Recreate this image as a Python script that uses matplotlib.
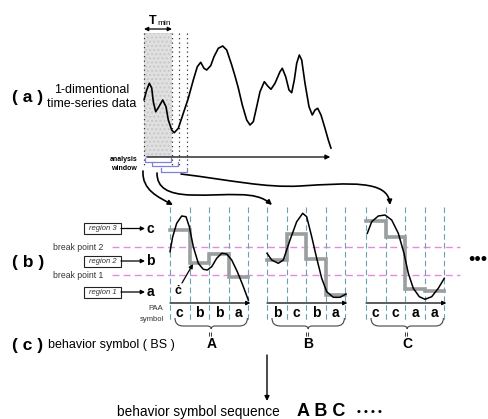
import numpy as np
import matplotlib
matplotlib.use('Agg')
from matplotlib import pyplot as plt
from matplotlib.patches import Rectangle, FancyArrowPatch, PathPatch
from matplotlib.path import Path

plt.rcParams['font.family'] = ['Liberation Sans', 'DejaVu Sans']

#%% Data (pixel coordinates, y down)
series_x = [144, 146.7, 149.3, 151.7, 153.3, 155.7, 158.3, 162.7, 166, 168.3, 171.7,
            174.3, 178.3, 183.3, 188.3, 193.3, 197.3, 200.7, 204, 206.7, 210.7, 214,
            218.3, 222.7, 226.7, 231.7, 235, 238.3, 242.3, 246.7, 250, 253.3, 256.7,
            260, 264.3, 267.7, 271, 275, 280, 282.3, 285.7, 289, 291.7, 294.3, 296.7,
            299.3, 301.7, 305, 309, 312.3, 315, 317.7, 321, 325, 328.3, 331]
series_y = [100, 90, 83.3, 88, 101.7, 111.7, 107.7, 100, 106.7, 120, 130,
            132.7, 128.3, 113.3, 98.3, 80, 66.7, 62.3, 68.3, 70, 65.7, 56.7,
            48.3, 46, 50, 65, 76, 88, 105, 120, 125, 121.7, 106.7,
            91.7, 81.7, 86, 89.3, 83.3, 71.7, 68.3, 76.7, 90, 92.7, 80, 63.3,
            55, 60, 83.3, 106.7, 115, 110, 108.3, 115, 128.3, 140, 148.3]

# window curves (b)
win_x = [[170, 172.7, 176.7, 181.7, 186, 189.3, 193.3, 198.3, 203.3, 207.3, 211.7,
          216.7, 221.7, 226.7, 231.7, 237.3, 242.7, 248.3],
         [267, 271.7, 278.3, 283.3, 290, 296.7, 302.7, 306.7, 311.7, 316.7, 321.7,
          326.7, 333.3, 340, 346],
         [367.3, 371.7, 378.3, 385, 391.7, 398.3, 404, 408.3, 413.3, 419.3, 425,
          431.7, 438.3, 444.3]]
win_y = [[251.7, 236.7, 223.3, 216, 216.7, 226.7, 246.7, 263.3, 269.3, 270, 266.7,
          258.3, 253.3, 254, 260, 271.7, 285, 300],
         [253.3, 260, 263.3, 260, 240, 221.7, 213.3, 216.7, 236.7, 258.3, 278.3,
          291.7, 297.3, 297.3, 294],
         [233.3, 221.7, 216, 215, 220, 233.3, 253.3, 273.3, 288.3, 296.7, 299.3,
          296.7, 288.3, 278.3]]

paa_levels = [[230, 262.7, 254, 277.3],
              [260, 234.3, 259, 295],
              [221, 237.3, 289.3, 290.7]]
paa_symbols = [['c', 'b', 'b', 'a'],
               ['b', 'c', 'b', 'a'],
               ['c', 'c', 'a', 'a']]
behavior_symbols = ['A', 'B', 'C']
region_labels = ['region 3', 'region 2', 'region 1']
region_symbols = ['c', 'b', 'a']
break_labels = ['break point 2', 'break point 1']

#%% Layout
panel_x0 = [170, 267, 366]
seg_w = 19.6
region_y = [228.5, 261, 292]
break_y = [247, 275]

fig = plt.figure(figsize=(4.89, 4.19), dpi=100)
ax = fig.add_axes([0, 0, 1, 1])
ax.set_xlim(0, 489)
ax.set_ylim(419, 0)
ax.axis('off')

#%% (a) time series
ax.add_patch(Rectangle((144, 33), 28, 124, facecolor='#e0e0e0', edgecolor='#c8c8c8',
                       hatch='....', lw=0))
for xd in [144, 172, 179, 187]:
    ax.plot([xd, xd], [33, 168], color='#333333', lw=0.9, ls=(0, (1, 2.6)))
ax.plot(series_x, series_y, color='black', lw=1.2, solid_capstyle='round',
        solid_joinstyle='round')
ax.annotate('', xy=(333, 157), xytext=(144, 157),
            arrowprops=dict(arrowstyle='-|>', color='black', lw=0.9, mutation_scale=7))
ax.annotate('', xy=(144, 29), xytext=(172, 29),
            arrowprops=dict(arrowstyle='<|-|>', color='black', lw=0.9, mutation_scale=6,
                            shrinkA=0, shrinkB=0))
ax.text(153, 21, 'T', fontsize=9, fontweight='bold', ha='center', va='center')
ax.text(157, 23.5, 'min', fontsize=6, ha='left', va='center')

ax.text(28, 97, '( a )', fontsize=12.5, fontweight='bold', ha='center', va='center')
ax.text(92, 90, '1-dimentional', fontsize=9, ha='center', va='center')
ax.text(92, 104, 'time-series data', fontsize=9, ha='center', va='center')
ax.text(137, 159, 'analysis', fontsize=5, fontweight='bold', ha='right', va='center')
ax.text(137, 168, 'window', fontsize=5, fontweight='bold', ha='right', va='center')

# analysis window brackets
for x0, x1, yb in [(145, 171, 162), (152, 178, 166), (161, 187, 172)]:
    ax.plot([x0, x0, x1, x1], [yb - 3.5, yb, yb, yb - 3.5], color='#8080d8', lw=0.9)

# curved arrows towards windows
curves = [
    [(143, 171), (142, 190), (158, 197), (173, 205)],
    [(157, 173), (157, 188), (168, 194), (190, 195), (230, 196), (255, 190), (272, 205)],
    [(181, 174), (230, 180), (265, 188), (300, 186), (350, 183), (388, 180), (390, 205)],
]
for pts in curves:
    codes = [Path.MOVETO] + [Path.CURVE4] * (len(pts) - 1)
    arr = FancyArrowPatch(path=Path(pts, codes), arrowstyle='-|>', mutation_scale=7,
                          color='black', lw=1.2)
    ax.add_patch(arr)

#%% (b) PAA
ax.text(28, 262, '( b )', fontsize=12.5, fontweight='bold', ha='center', va='center')
for lab, sym, yy in zip(region_labels, region_symbols, region_y):
    ax.add_patch(Rectangle((84, yy - 5.5), 37, 11, facecolor='white', edgecolor='#222222', lw=0.8))
    ax.text(102.5, yy, lab, fontsize=5.5, style='italic', ha='center', va='center', color='#333333')
    ax.annotate('', xy=(145, yy), xytext=(121, yy),
                arrowprops=dict(arrowstyle='-|>', color='black', lw=0.9, mutation_scale=6,
                                shrinkA=0, shrinkB=0))
    ax.text(150.5, yy, sym, fontsize=10, fontweight='bold', ha='center', va='center')
for lab, yy in zip(break_labels, break_y):
    ax.text(78, yy, lab, fontsize=6.2, ha='center', va='center', color='#333333')
    ax.plot([112, 460], [yy, yy], color='#e48ae4', lw=1.0, ls=(0, (5, 3)))

for k, x0 in enumerate(panel_x0):
    xs = [x0 + j * seg_w for j in range(5)]
    for xd in xs:
        ax.plot([xd, xd], [207, 320], color='#6aa3ad', lw=0.8, ls=(0, (5, 3)))
    # PAA steps
    sx, sy = [], []
    for j, lev in enumerate(paa_levels[k]):
        sx += [xs[j], xs[j + 1]]
        sy += [lev, lev]
    ax.plot(sx, sy, color='#9a9e9e', lw=2.6, solid_joinstyle='miter')
    ax.plot(win_x[k], win_y[k], color='black', lw=1.1, solid_joinstyle='round')
    ax.annotate('', xy=(xs[-1] + 2, 303), xytext=(xs[0], 303),
                arrowprops=dict(arrowstyle='-|>', color='black', lw=0.9, mutation_scale=6,
                                shrinkA=0, shrinkB=0))
    ax.add_patch(Rectangle((xs[0] - 0.5, 307), xs[-1] - xs[0] + 1, 12, facecolor='white',
                           edgecolor='none', zorder=1))
    for j, sym in enumerate(paa_symbols[k]):
        ax.text((xs[j] + xs[j + 1]) / 2, 313, sym, fontsize=10, fontweight='bold',
                ha='center', va='center', zorder=3)
    # brace
    b0, b1 = xs[0] + 5, xs[-1] - 1
    bm = (b0 + b1) / 2
    pts = [(b0, 318), (b0, 326), (b0 + 8, 326), (bm - 4, 326), (bm, 326), (bm, 329),
           (bm, 326), (bm + 4, 326), (b1 - 8, 326), (b1, 326), (b1, 318)]
    codes = [Path.MOVETO, Path.CURVE3, Path.CURVE3, Path.LINETO, Path.CURVE3, Path.CURVE3,
             Path.CURVE3, Path.CURVE3, Path.LINETO, Path.CURVE3, Path.CURVE3]
    ax.add_patch(PathPatch(Path(pts, codes), facecolor='none', edgecolor='#444444', lw=0.8))
    ax.text(bm, 334, '=', fontsize=6, fontweight='bold', rotation=90, ha='center', va='center')
    ax.text(bm, 344, behavior_symbols[k], fontsize=10, fontweight='bold', ha='center', va='center')

ax.text(178, 291, '\u010b', fontsize=9, fontweight='bold', ha='center', va='center')
ax.annotate('', xy=(193, 264), xytext=(182, 283),
            arrowprops=dict(arrowstyle='-|>', color='black', lw=0.9, mutation_scale=6,
                            shrinkA=0, shrinkB=0))
ax.text(156, 308, 'PAA', fontsize=5.5, ha='center', va='center', color='#333333')
ax.text(152, 319, 'symbol', fontsize=5.5, ha='center', va='center', color='#333333')
ax.text(478, 260, '\u2022\u2022\u2022', fontsize=13, ha='center', va='center')

#%% (c) behavior symbols
ax.text(28, 345, '( c )', fontsize=12.5, fontweight='bold', ha='center', va='center')
ax.text(48, 345, 'behavior symbol ( BS )', fontsize=9, ha='left', va='center')
ax.annotate('', xy=(267, 401), xytext=(267, 355),
            arrowprops=dict(arrowstyle='-|>', color='black', lw=1.0, mutation_scale=7,
                            shrinkA=0, shrinkB=0))
ax.text(198, 412, 'behavior symbol sequence', fontsize=9.8, ha='center', va='center')
ax.text(297, 411, ' '.join(behavior_symbols), fontsize=13, fontweight='bold', ha='left', va='center')
ax.text(357, 412, '\u2022 \u2022 \u2022 \u2022', fontsize=8, fontweight='bold', ha='left', va='center')

fig.savefig('out.png', dpi=100)
